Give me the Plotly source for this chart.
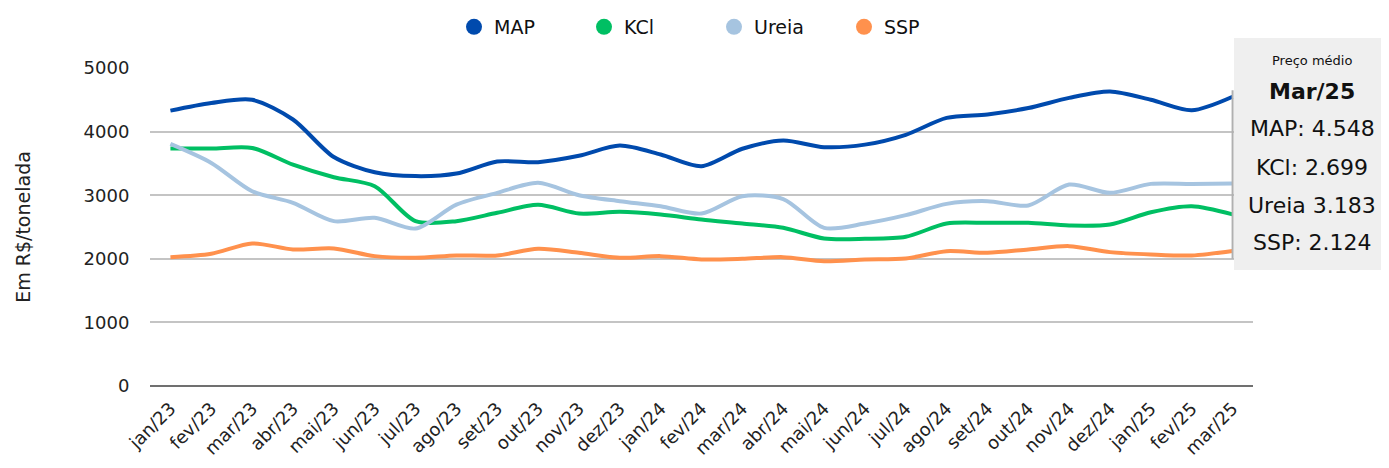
import plotly.graph_objects as go

# --- Dados ---
meses = ['jan/23', 'fev/23', 'mar/23', 'abr/23', 'mai/23', 'jun/23', 'jul/23', 'ago/23', 'set/23',
         'out/23', 'nov/23', 'dez/23', 'jan/24', 'fev/24', 'mar/24', 'abr/24', 'mai/24', 'jun/24',
         'jul/24', 'ago/24', 'set/24', 'out/24', 'nov/24', 'dez/24', 'jan/25', 'fev/25', 'mar/25']

map_ = [4330, 4450, 4500, 4190, 3600, 3360, 3300, 3340, 3530, 3520, 3620, 3780, 3640, 3455,
        3730, 3860, 3755, 3795, 3950, 4215, 4270, 4370, 4530, 4630, 4500, 4335, 4548]
kcl = [3733, 3733, 3743, 3480, 3283, 3141, 2592, 2592, 2723, 2848, 2712, 2738, 2696, 2618,
       2555, 2487, 2319, 2314, 2346, 2555, 2565, 2565, 2524, 2540, 2733, 2827, 2699]
ureia = [3806, 3508, 3063, 2880, 2592, 2644, 2476, 2853, 3037, 3194, 3000, 2906, 2827, 2712,
         2984, 2940, 2487, 2555, 2686, 2864, 2906, 2838, 3167, 3037, 3178, 3178, 3183]
ssp = [2026, 2079, 2241, 2147, 2162, 2042, 2016, 2052, 2052, 2157, 2094, 2016, 2042, 1990,
       2000, 2026, 1963, 1990, 2005, 2120, 2094, 2147, 2199, 2105, 2068, 2052, 2124]

series = [('MAP', map_, '#004aad'), ('KCl', kcl, '#00bf63'),
          ('Ureia', ureia, '#a6c4e0'), ('SSP', ssp, '#ff914d')]

FONT = 'DejaVu Sans'

# area do grafico em pixels da janela (para posicionar o quadro lateral)
L, R, T, B = 150, 1253, 68, 386
W, H = 1389, 468
OFF = 8  # margem padrao do <body> na pagina


def px(x):
    return (x - L) / (R - L)


def py(y):
    return (B - y) / (B - T)


fig = go.Figure()

for nome, vals, cor in series:
    fig.add_trace(go.Scatter(
        x=meses, y=vals, mode='lines', name=nome,
        line=dict(color=cor, width=4, shape='spline', smoothing=0.8),
        showlegend=False,
    ))

# entradas da legenda com circulos
for nome, vals, cor in series:
    fig.add_trace(go.Scatter(
        x=[None], y=[None], mode='markers', name=nome,
        marker=dict(color=cor, size=16, symbol='circle'),
    ))

# --- Quadro "Preço médio" ---
fig.add_shape(type='rect', xref='paper', yref='paper',
              x0=px(1234), x1=px(1400), y0=py(270), y1=py(38),
              fillcolor='#efefef', line_width=0, layer='above')
fig.add_shape(type='line', xref='x', yref='y',
              x0=meses[-1], x1=meses[-1], y0=2000, y1=4650,
              line=dict(color='#b0b0b0', width=2), layer='above')


def fmt(v):
    return f'{v:,}'.replace(',', '.')


linhas = [
    ('Preço médio', 13, 61),
    ('<b>' + meses[-1].capitalize() + '</b>', 22, 91),
    (f'MAP: {fmt(map_[-1])}', 22, 129),
    (f'KCl: {fmt(kcl[-1])}', 22, 167),
    (f'Ureia {fmt(ureia[-1])}', 22, 205),
    (f'SSP: {fmt(ssp[-1])}', 22, 242),
]
for txt, sz, ypix in linhas:
    fig.add_annotation(x=px(1312), y=py(ypix), xref='paper', yref='paper',
                       text=txt, showarrow=False, xanchor='center', yanchor='middle',
                       font=dict(family=FONT, size=sz, color='#111111'))

# --- Layout ---
fig.update_layout(
    width=W - OFF, height=H - OFF,
    margin=dict(l=L - OFF, r=W - R, t=T - OFF, b=H - B, autoexpand=False),
    plot_bgcolor='white', paper_bgcolor='white',
    font=dict(family=FONT, size=18, color='#222222'),
    legend=dict(orientation='h', x=px(714), xanchor='center', y=py(27), yanchor='middle',
                font=dict(size=19, color='#111111'),
                entrywidth=85, entrywidthmode='pixels'),
)

fig.update_xaxes(
    type='category', range=[-0.5, 26.5], tickangle=-45, automargin=False,
    tickfont=dict(size=18, color='#222222'), showgrid=False, showline=False,
    ticks='outside', ticklen=4, tickcolor='rgba(0,0,0,0)',
)
fig.update_yaxes(
    range=[0, 5000], tickvals=[0, 1000, 2000, 3000, 4000, 5000], tickformat='d',
    automargin=False,
    showgrid=True, gridcolor='#c4c4c4', gridwidth=2,
    zeroline=True, zerolinecolor='#707070', zerolinewidth=2,
    ticks='outside', ticklen=16, tickcolor='rgba(0,0,0,0)',
    tickfont=dict(size=18, color='#222222'),
    title=dict(text='Em R$/tonelada', font=dict(size=19, color='#222222'), standoff=47),
)

fig.write_html('out.html')
